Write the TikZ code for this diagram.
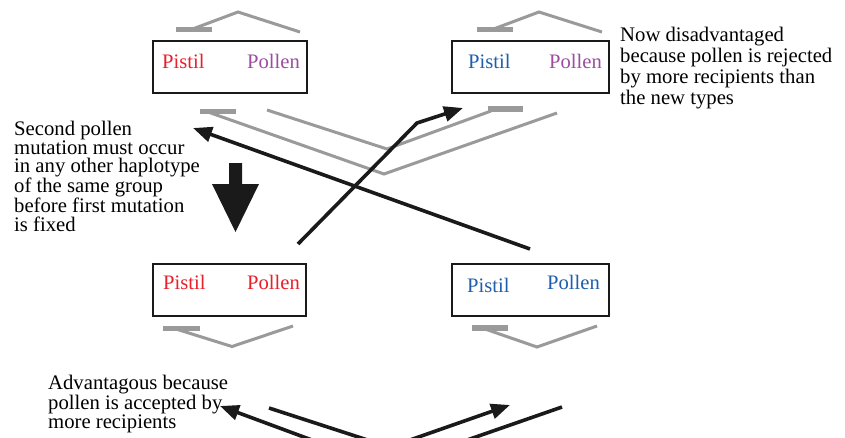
\documentclass[tikz,border=0pt]{standalone}
\usepackage{fontspec}
\setmainfont{Liberation Serif}
\usetikzlibrary{arrows.meta}
\definecolor{pred}{HTML}{E8202A}
\definecolor{ppur}{HTML}{9B4EA0}
\definecolor{pblue}{HTML}{1F5FAA}
\definecolor{cgray}{HTML}{9A9A9A}
\definecolor{cblack}{HTML}{1A1A1A}
\begin{document}
\begin{tikzpicture}[x=1pt,y=-1pt,
  hbox/.style={draw=cblack, line width=1.8pt, rectangle, inner sep=0pt},
  lbl/.style={font=\fontsize{20.6}{20.6}\selectfont, inner sep=0pt, anchor=base west},
  note/.style={font=\fontsize{20.7}{18.7}\selectfont, align=left, inner sep=0pt, anchor=base west},
  gline/.style={draw=cgray, line width=3pt, line join=miter},
  gbar/.style={draw=cgray, line width=5.5pt},
  bline/.style={draw=cblack, line width=3.6pt},
  barrow/.style={bline, -{Triangle[length=19pt,width=15pt]}},
]
\useasboundingbox (0,0) rectangle (845,437);
\clip (0,0) rectangle (845,437);
\fill[white] (0,0) rectangle (845,437);

% boxes
\node[hbox, minimum width=154pt, minimum height=52pt] (b1) at (230,67) {};
\node[hbox, minimum width=157pt, minimum height=52pt] (b2) at (530.5,67) {};
\node[hbox, minimum width=153pt, minimum height=52pt] (b3) at (229.5,290) {};
\node[hbox, minimum width=157pt, minimum height=52pt] (b4) at (530.5,290) {};

\node[lbl, text=pred] (p1) at (162,68) {Pistil};
\node[lbl, text=ppur] (q1) at (247,68) {Pollen};
\node[lbl, text=pblue] (p2) at (468,68) {Pistil};
\node[lbl, text=ppur] (q2) at (549,68) {Pollen};
\node[lbl, text=pred] (p3) at (163,289) {Pistil};
\node[lbl, text=pred] (q3) at (247,289) {Pollen};
\node[lbl, text=pblue] (p4) at (467,292) {Pistil};
\node[lbl, text=pblue] (q4) at (547,289) {Pollen};

% gray chevrons above top boxes
\draw[gline] (190,30) -- (238,12) -- (300,32);
\draw[gbar] (176,29.5) -- (212,29.5);
\draw[gline] (491,30) -- (539,12) -- (602,32);
\draw[gbar] (477,29.5) -- (513,29.5);

% gray V's below top boxes
\draw[gline] (208,112) -- (384,174) -- (557,113);
\draw[gline] (267,110) -- (387,149) -- (491,111);
\draw[gbar] (200,111.5) -- (236,111.5);
\draw[gbar] (488,109) -- (523,109);

% gray V's below bottom boxes
\draw[gline] (176,329) -- (232,346.5) -- (293,326);
\draw[gbar] (163,328.5) -- (200,328.5);
\draw[gline] (485,329) -- (537,347) -- (597,326);
\draw[gbar] (472,328) -- (508,328);

% black arrows between rows
\coordinate (a1s) at (530,249);
\coordinate (a1e) at (193,128);
\coordinate (a2s) at (298,244);
\coordinate (a2m) at (417,123);
\coordinate (a2e) at (463,108);
\draw[barrow] (a1s) -- (a1e);
\draw[barrow] (a2s) -- (a2m) -- (a2e);

% big down arrow
\fill[cblack] (229,163) -- (242,163) -- (242,184) -- (259,184) -- (235.5,232) -- (212,184) -- (229,184) -- cycle;

% bottom black lines (cut off)
\coordinate (c1s) at (320,443);
\coordinate (c1e) at (220,406);
\coordinate (c2s) at (269,408);
\coordinate (c2e) at (383,445);
\coordinate (c3s) at (390,447);
\coordinate (c3e) at (510,405);
\coordinate (c4s) at (562,407);
\coordinate (c4e) at (447,447);
\draw[barrow] (c1s) -- (c1e);
\draw[bline] (c2s) -- (c2e);
\draw[barrow] (c3s) -- (c3e);
\draw[bline] (c4s) -- (c4e);

% notes (anchor = baseline of last line)
\node[note] (n1) at (14,231.5) {Second pollen\\mutation must occur\\in any other haplotype\\of the same group\\before first mutation\\is fixed};
\node[note, font=\fontsize{20.7}{21}\selectfont] (n2) at (620,104) {Now disadvantaged\\because pollen is rejected\\by more recipients than\\the new types};
\node[note, font=\fontsize{20.7}{18.5}\selectfont] (n3) at (48,428) {Advantagous because\\pollen is accepted by\\more recipients};
\end{tikzpicture}
\end{document}
